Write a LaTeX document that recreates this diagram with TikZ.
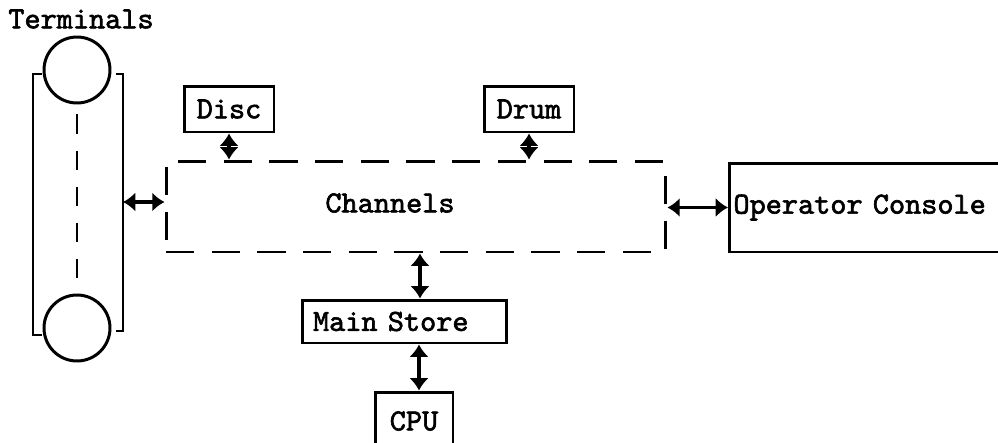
\documentclass[tikz,border=0pt]{standalone}
\usepackage{fontspec}
\newfontfamily\typer{lmmono10-regular}[Extension=.otf, FakeBold=2]
\usetikzlibrary{arrows.meta,positioning}
\begin{document}
\begin{tikzpicture}[x=0.02cm, y=-0.02cm, line width=1.7pt,
	every node/.style={font=\typer\fontsize{17.5}{20}\selectfont},
	unit/.style={draw, rectangle, inner sep=0pt},
	term/.style={draw, circle, minimum size=1.32cm, inner sep=0pt},
	link/.style={{Latex[length=7pt,width=11pt]}-{Latex[length=7pt,width=11pt]}, line width=1.8pt}]
	
	\useasboundingbox (0,0) rectangle (998,443);
	
	% ---- Terminals (two circles in a bracket) ----
	\node (termtext) at (81,19) {Terminals};
	\node[term] (termA) at (77,70) {};
	\node[term] (termB) at (77,328) {};
	\draw[dash pattern=on 11pt off 9.5pt] ([yshift=-0.2cm]termA.south) -- ([yshift=0.2cm]termB.north);
	\draw (42,74) -- (33,74) -- (33,335) -- (42,335);
	\draw (116,74) -- (123,74) -- (123,331) -- (116,331);
	\coordinate (termR) at (123,202);
	
	% ---- Channels ----
	\node[unit, dash pattern=on 16pt off 10pt, minimum width=10cm, minimum height=1.82cm,
		label={[xshift=-0.52cm, yshift=0.07cm]center:Channels}] (chan) at (416,206.5) {};
	
	% ---- Disc and drum above the channels ----
	\foreach \x/\name/\txt in {229/disc/Disc, 529/drum/Drum}
	{
		\node[unit, minimum width=1.8cm, minimum height=0.92cm] (\name) at (\x,109) {\txt};
		\draw[link] (\name.south) -- (\name.south |- chan.north);
	}
	
	% ---- Operator console (runs off the right edge) ----
	\node[unit, anchor=west, minimum height=1.78cm, inner xsep=0.08cm, text width=6cm, align=left]
		(console) at (728,207.5) {Operator Console};
	
	% ---- Store and CPU ----
	\node[unit, minimum width=4.1cm, minimum height=0.86cm, inner xsep=0.22cm, text width=3.66cm, align=left]
		(store) at (404.5,321.5) {Main Store};
	\node[unit, minimum width=1.56cm, minimum height=1.16cm] (cpu) at (414,421) {CPU};
	
	% ---- Links ----
	\draw[link] (termR) -- (termR -| chan.west);
	\draw[link] (chan.east |- console.west) -- (console.west);
	\draw[link] ([xshift=0.31cm]store.north) -- ([xshift=0.31cm]store.north |- chan.south);
	\draw[link] ([xshift=0.1cm]cpu.north) -- ([xshift=0.1cm]cpu.north |- store.south);
	
\end{tikzpicture}
\end{document}
